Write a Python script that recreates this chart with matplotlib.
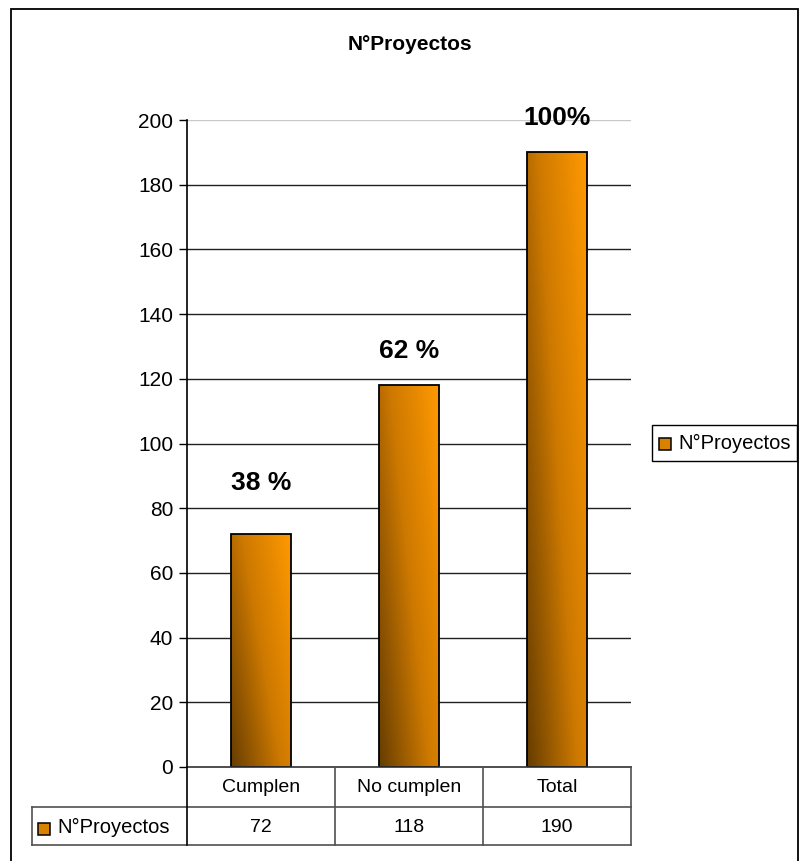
import numpy as np
import matplotlib
matplotlib.use("Agg")
import matplotlib.pyplot as plt
from matplotlib.patches import Rectangle
from matplotlib.lines import Line2D
import matplotlib.transforms as mtransforms
from matplotlib.colors import LinearSegmentedColormap

plt.rcParams['font.family'] = ['Liberation Sans', 'DejaVu Sans']

categories = ["Cumplen", "No cumplen", "Total"]
values = [72, 118, 190]
pct_labels = ["38 %", "62 %", "100%"]
series_name = "N°Proyectos"
title = "N°Proyectos"
yticks = [0, 20, 40, 60, 80, 100, 120, 140, 160, 180, 200]

W, H = 800, 861
fig = plt.figure(figsize=(W / 100, H / 100), dpi=100)
fig.patch.set_facecolor('white')

def fx(px):
    return px / W

def fy(py):
    return 1 - py / H

# outer chart border
fig.add_artist(Rectangle((fx(11), fy(870)), fx(787), (870 - 9) / H, transform=fig.transFigure,
                         fill=False, edgecolor='black', linewidth=1.3))

L, R, T, B = 187, 631, 120, 767
ax = fig.add_axes([fx(L), fy(B), fx(R - L), (B - T) / H])
ax.set_xlim(-0.5, len(categories) - 0.5)
ax.set_ylim(0, 200)
for s in ['top', 'right', 'bottom']:
    ax.spines[s].set_visible(False)
ax.spines['left'].set_linewidth(1.2)
ax.set_yticks(yticks)
ax.set_yticklabels([str(t) for t in yticks], fontsize=15)
ax.tick_params(axis='y', length=6, width=1, pad=4)
ax.set_xticks([])
for t in yticks[1:]:
    ax.axhline(t, color='#202020' if t < 200 else '#c8c8c8', linewidth=1.0, zorder=1)

cmap = LinearSegmentedColormap.from_list('og', [(0.40, 0.24, 0.0), (0.80, 0.47, 0.0), (1.0, 0.60, 0.0)])
uu, vv = np.meshgrid(np.linspace(0, 1, 60), np.linspace(0, 1, 200))
grad = 0.6 * uu + 0.4 * vv

bars = ax.bar(range(len(categories)), values, width=0.4, facecolor='none',
              edgecolor='black', linewidth=1.3, zorder=3)
for b in bars:
    x0, y0, w, h = b.get_x(), b.get_y(), b.get_width(), b.get_height()
    im = ax.imshow(grad, cmap=cmap, extent=(x0, x0 + w, y0, y0 + h), origin='lower',
                   aspect='auto', zorder=2, vmin=0, vmax=1)
    im.set_clip_path(b)
ax.set_xlim(-0.5, len(categories) - 0.5)
ax.set_ylim(0, 200)

offsets = [37, 25, 24.5]
for i, (v, lab) in enumerate(zip(values, pct_labels)):
    ax.annotate(lab, (i, v), xytext=(0, offsets[i]), textcoords='offset points',
                ha='center', va='center', fontsize=19, fontweight='bold', zorder=5)

# title
fig.text(fx(410), fy(44), title, ha='center', va='center', fontsize=15, fontweight='bold')

# data table
tcol = '#505050'
trans = mtransforms.blended_transform_factory(ax.transData, fig.transFigure)
row1, row2, row3 = B, 807, 845
n = len(categories)
edges = [L + (R - L) * k / n for k in range(n + 1)]
def hline(x0, x1, y, c=tcol, lw=1.2):
    fig.add_artist(Line2D([fx(x0), fx(x1)], [fy(y), fy(y)], transform=fig.transFigure, color=c, linewidth=lw))
def vline(x, y0, y1, c=tcol, lw=1.2):
    fig.add_artist(Line2D([fx(x), fx(x)], [fy(y0), fy(y1)], transform=fig.transFigure, color=c, linewidth=lw))
hline(L, R, row1, c='#303030')
hline(32, R, row2)
hline(32, R, row3)
vline(32, row2, row3)
vline(L, row1, row3, c='black')
for e in edges[1:]:
    vline(e, row1, row3)
for i, (c, v) in enumerate(zip(categories, values)):
    ax.text(i, fy((row1 + row2) / 2), c, transform=trans, ha='center', va='center', fontsize=14)
    ax.text(i, fy((row2 + row3) / 2 + 1), str(v), transform=trans, ha='center', va='center', fontsize=14)

def swatch(px, py, size=12):
    fig.add_artist(Rectangle((fx(px), fy(py + size)), fx(size), size / H, transform=fig.transFigure,
                             facecolor='#d98200', edgecolor='black', linewidth=1.1))
swatch(38, 823)
fig.text(fx(57), fy(827), series_name, ha='left', va='center', fontsize=14.5)

# legend
fig.add_artist(Rectangle((fx(652), fy(461)), fx(145), (461 - 425) / H, transform=fig.transFigure,
                         fill=False, edgecolor='black', linewidth=1.0))
swatch(659, 438)
fig.text(fx(678), fy(443), series_name, ha='left', va='center', fontsize=14.5)

fig.savefig('out.png', dpi=100, facecolor='white')
